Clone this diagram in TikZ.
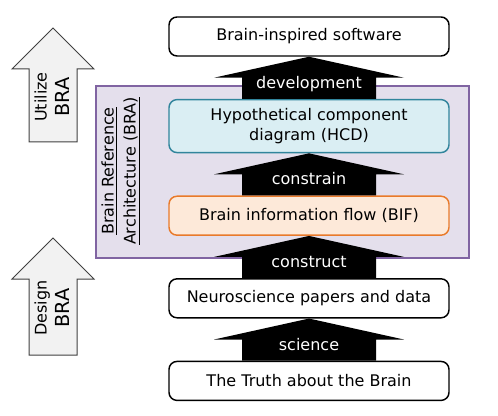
\documentclass[tikz,border=0pt]{standalone}
\usepackage{fontspec}
\setmainfont{DejaVu Sans}
\usetikzlibrary{calc,positioning}

\definecolor{hcdfill}{HTML}{DAEEF3}
\definecolor{hcdline}{HTML}{31859C}
\definecolor{biffill}{HTML}{FDE9D9}
\definecolor{bifline}{HTML}{E97A2A}
\definecolor{brafill}{HTML}{E4DFEC}
\definecolor{braline}{HTML}{8064A2}
\definecolor{arrowgray}{HTML}{F2F2F2}

% black up-arrow from lower node #1 to upper node #2 with label #3
\newcommand{\stagearrow}[3]{%
 \fill ($(#1.north)+(-67,0)$) |- ($(#2.south)+(-95,21)$) -- (#2.south) -- ($(#2.south)+(95,21)$) -| ($(#1.north)+(67,0)$) -- cycle;
 \node [arrowlabel] (#1-lbl) at ($(#2.south)+(0,31.5)$) {#3};
}

\begin{document}
\begin{tikzpicture}[x=0.75pt, y=-0.75pt, node distance=31.6pt]
\tikzset{
 block/.style = {rectangle, draw, line width=1.1pt, rounded corners=6pt, fill=white, minimum width=210pt, minimum height=29.25pt, align=center, font=\fontsize{12}{15}\selectfont},
 arrowlabel/.style = {text=white, anchor=base, inner sep=0pt, font=\fontsize{12}{15}\selectfont},
 grayarrow/.style = {draw=black!75, line width=0.75pt, fill=arrowgray},
 sidelabel/.style = {rotate=90, align=center, font=\fontsize{12}{16.5}\selectfont}
}
\useasboundingbox (0,0) rectangle (498,416);

% reference architecture frame
\node [draw=braline, fill=brafill, line width=1.1pt, minimum width=279.75pt, minimum height=129pt, inner sep=0pt] (bra) at (282.5,172) {};
\node [sidelabel] (bra-lbl) at (121,171) {\underline{Brain Reference}\\\underline{Architecture (BRA)}};

% place nodes
\node [block] (software) at (309,36.5) {Brain-inspired software};
\node [block, below=of software, fill=hcdfill, draw=hcdline, minimum height=39.75pt] (hcd) {Hypothetical component\\diagram (HCD)};
\node [block, below=of hcd, fill=biffill, draw=bifline] (bif) {Brain information flow (BIF)};
\node [block, below=of bif] (papers) {Neuroscience papers and data};
\node [block, below=of papers] (truth) {The Truth about the Brain};

% draw arrows
\stagearrow{hcd}{software}{development}
\stagearrow{bif}{hcd}{constrain}
\stagearrow{papers}{bif}{construct}
\stagearrow{truth}{papers}{science}

% side arrows
\draw [grayarrow] (53,28) -- (94,69) -- (77,69) -- (77,142) -- (29,142) -- (29,69) -- (12,69) -- cycle;
\node [sidelabel, font=\fontsize{12}{17}\selectfont] (utilize) at (52,97) {Utilize\\{\fontsize{14.5}{17}\selectfont BRA}};
\draw [grayarrow] (53,238) -- (94,279) -- (77,279) -- (77,355) -- (29,355) -- (29,279) -- (12,279) -- cycle;
\node [sidelabel, font=\fontsize{12}{17}\selectfont] (design) at (52,308) {Design\\{\fontsize{14.5}{17}\selectfont BRA}};
\end{tikzpicture}
\end{document}
